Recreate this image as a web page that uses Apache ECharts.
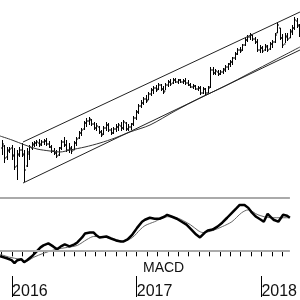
<!DOCTYPE html>
<html><head><meta charset="utf-8">
<script src="https://cdn.jsdelivr.net/npm/echarts@6/dist/echarts.min.js"></script>
<style>html,body{margin:0;padding:0;background:#fff}#c{width:300px;height:300px}</style>
</head><body><div id="c"></div>
<script>
// x unit: months since Jan 2016; weekly bars
const firstWeek = -1.0;
const weekStep = 12 / 52;
const priceHigh = [60,55,53,53,55,52,50,53,57,50,52,55,58,59,60,61,60,61,62,59,55,52,50,53,60,63,60,57,54,59,63,69,72,79,82,83,81,78,77,74,70,74,78,77,72,73,76,77,78,80,78,76,77,84,90,96,100,103,105,108,112,114,115,117,116,114,117,120,121,122,122,121,121,121,122,120,117,116,115,114,114,113,112,114,133,133,131,130,130,132,135,137,140,143,148,152,153,156,162,165,167,165,163,161,155,154,156,155,158,160,167,178,172,166,167,167,171,175,183,182,176];
const priceLow = [45,37,40,47,40,30,20,43,43,18,33,40,50,53,54,53,54,55,54,52,47,45,42,44,50,53,48,47,46,50,54,61,64,70,73,75,74,70,69,66,63,65,69,68,65,66,68,69,69,70,69,69,70,74,80,86,92,95,97,100,104,106,108,110,109,106,110,113,114,116,117,116,117,116,115,114,112,111,110,109,105,106,105,107,112,125,125,124,125,126,128,130,133,135,140,145,147,149,154,158,160,159,156,148,147,147,149,148,150,152,157,167,160,152,157,159,162,165,170,172,163];
const priceOpen = [52,54,43,49,52,45,34,46,50,45,34,46,52,55,57,57,56,58,59,56,53,49,47,45,52,58,55,50,51,50,57,62,67,71,77,79,80,76,72,73,68,66,72,75,70,67,71,73,74,72,77,71,73,76,82,88,94,97,101,100,106,110,112,111,115,111,109,115,118,117,120,118,120,118,119,117,115,113,114,111,112,107,111,107,113,130,127,128,126,128,130,133,136,138,142,146,150,150,155,160,163,165,161,158,150,152,150,153,151,156,158,167,172,162,156,163,162,168,172,179,174];
const priceClose = [56,42,50,51,44,33,45,50,46,30,48,53,56,57,58,55,58,59,56,53,49,47,44,52,58,55,50,52,49,57,61,67,70,77,79,81,76,72,74,68,65,72,75,70,67,71,73,75,72,78,71,73,76,82,88,94,97,101,99,106,110,112,110,115,111,108,115,118,116,120,118,120,118,119,117,115,113,114,111,112,107,111,107,112,130,127,129,126,128,131,133,136,138,142,146,150,149,155,160,163,165,161,158,150,152,149,154,150,156,158,165,175,162,155,164,161,169,172,180,175,166];
// moving average (month, value)
const maMonth = [-1.16,-0.05,1.16,2.28,3.49,4.42,5.35,6.74,8.14,9.53,10.93,12.79,15.12,17.44,19.77,22.09,24.42,26.74];
const maValue = [64,60,55,51,49,48,50,53,57,62,68,75,89,102,114,127,140,153];
// channel lines (month, value)
const upperMonth = [0.98, 26.74];
const upperValue = [58, 188];
const lowerMonth = [0.98, 26.74];
const lowerValue = [17, 150];
// MACD
const macdMonth = [-1.16,-0.51,-0.05,0.23,0.51,0.88,1.16,1.44,1.91,2.37,2.74,3.02,3.49,3.95,4.33,4.70,5.07,5.53,6.00,6.28,6.74,7.02,7.49,7.86,8.14,8.42,9.07,9.53,10.00,10.47,10.74,11.12,11.58,12.05,12.51,12.79,13.26,13.72,14.19,14.65,14.93,15.40,15.86,16.33,16.79,17.26,17.72,18.09,18.56,18.84,19.30,19.77,20.23,20.70,21.16,21.63,21.91,22.37,22.74,23.02,23.49,23.95,24.23,24.60,24.88,25.16,25.63,26.09,26.47,26.74];
const macdValue = [-6,-8,-10,-13,-10,-9,-12,-10,-6,-1,3,5,7,4,1,4,6,4,6,8,13,17,18,18,15,13,14,12,10,9,9,11,16,23,29,31,33,32,32,34,36,34,32,29,26,21,16,13,18,20,21,24,28,33,38,43,46,46,43,39,34,31,29,37,34,31,29,36,35,33];
const signalMonth = [-1.16,-0.23,0.70,1.35,2.09,3.02,4.23,5.35,6.28,7.21,7.86,9.07,10.00,10.65,11.58,12.33,12.79,13.72,14.93,15.86,17.16,17.91,18.37,19.30,20.23,21.16,22.09,22.74,23.67,24.88,26.09,26.74];
const signalValue = [-4,-7,-9,-11,-7,-3,1,3,5,11,14,13,11,9,13,21,25,29,34,33,26,20,18,20,24,29,38,41,36,33,33,33];
const minorTicks = [-1,0,1,2,3,4,5,6,7,8,9,10,11,12,13,14,15,16,17,18,19,20,21,22,23,24,25,26];
const yearTicks = [0,12,24];
const yearLabels = ['2016','2017','2018'];

const FONT = 'Liberation Sans, Arial, sans-serif';
const XMIN = -12.5/10.75, XMAX = 287.5/10.75;
const ohlc = priceOpen.map((o,i)=>[firstWeek + i*weekStep, o, priceHigh[i], priceLow[i], priceClose[i]]);
const pairs = (xs, ys) => xs.map((x,i)=>[x, ys[i]]);

function renderBar(params, api){
  const x = api.value(0);
  const o = api.coord([x, api.value(1)]);
  const h = api.coord([x, api.value(2)]);
  const l = api.coord([x, api.value(3)]);
  const c = api.coord([x, api.value(4)]);
  const px = Math.round(h[0]) + 0.5;
  const st = {stroke:'#000', lineWidth:1};
  return {type:'group', children:[
    {type:'line', shape:{x1:px, y1:h[1], x2:px, y2:l[1]}, style:st},
    {type:'line', shape:{x1:px-1.5, y1:o[1], x2:px, y2:o[1]}, style:st},
    {type:'line', shape:{x1:px, y1:c[1], x2:px+1.5, y2:c[1]}, style:st}
  ]};
}

const chart = echarts.init(document.getElementById('c'), null, {renderer:'canvas'});
chart.setOption({
  animation:false,
  backgroundColor:'#fff',
  title:{text:'MACD', left:143, top:261, padding:0, textStyle:{fontSize:14, fontWeight:'normal', fontFamily:FONT, color:'#111'}},
  grid:[
    {left:0, top:0, width:300, height:197},
    {left:0, top:198, width:300, height:79}
  ],
  xAxis:[
    {gridIndex:0, type:'value', min:XMIN, max:XMAX, show:false},
    {gridIndex:1, type:'value', min:XMIN, max:XMAX, position:'bottom',
      axisLine:{show:false}, splitLine:{show:false},
      axisTick:{show:true, length:6, lineStyle:{color:'#000', width:1}, customValues:minorTicks},
      axisLabel:{show:false}},
    {gridIndex:1, type:'value', min:XMIN, max:XMAX, position:'bottom',
      axisLine:{show:false}, splitLine:{show:false},
      axisTick:{show:true, length:21, lineStyle:{color:'#000', width:1}, customValues:yearTicks},
      axisLabel:{show:true, customValues:yearTicks, align:'left', margin:8, fontSize:16, fontFamily:FONT, color:'#111',
        formatter:(v)=>yearLabels[yearTicks.indexOf(Math.round(v))] || ''}}
  ],
  yAxis:[
    {gridIndex:0, type:'value', min:3, max:200, show:false},
    {gridIndex:1, type:'value', min:-26, max:53, show:false}
  ],
  series:[
    {type:'custom', xAxisIndex:0, yAxisIndex:0, renderItem:renderBar, data:ohlc, encode:{x:0, y:[1,2,3,4]}, clip:true},
    {type:'line', xAxisIndex:0, yAxisIndex:0, data:pairs(maMonth, maValue), smooth:0.3, symbol:'none', lineStyle:{color:'#333', width:1}},
    {type:'line', xAxisIndex:0, yAxisIndex:0, data:pairs(upperMonth, upperValue), symbol:'none', lineStyle:{color:'#222', width:1}},
    {type:'line', xAxisIndex:0, yAxisIndex:0, data:pairs(lowerMonth, lowerValue), symbol:'none', lineStyle:{color:'#222', width:1}},
    {type:'line', xAxisIndex:1, yAxisIndex:1, data:pairs(signalMonth, signalValue), smooth:0.3, symbol:'none', lineStyle:{color:'#666', width:1},
      markLine:{silent:true, symbol:'none', label:{show:false}, lineStyle:{color:'#aaa', width:2, type:'solid'}, data:[{yAxis:0},{yAxis:53}]}},
    {type:'line', xAxisIndex:1, yAxisIndex:1, data:pairs(macdMonth, macdValue), symbol:'none', lineStyle:{color:'#000', width:2.5}}
  ]
});
</script>
</body></html>
